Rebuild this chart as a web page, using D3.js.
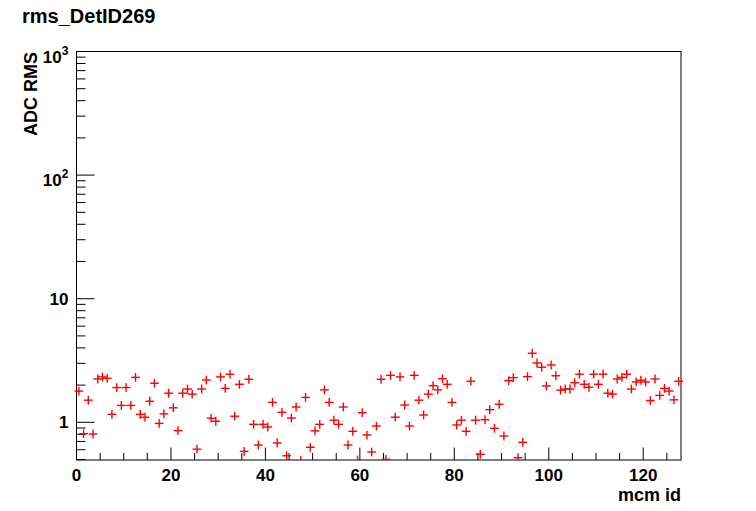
<!DOCTYPE html>
<html><head><meta charset="utf-8">
<script src="https://cdn.jsdelivr.net/npm/d3@7"></script>
<style>body{margin:0;background:#fff}svg{display:block}text{font-family:"Liberation Sans",Arial,sans-serif;font-weight:bold}</style>
</head><body><svg id="c" width="756" height="511"></svg>
<script>
const title = "rms_DetID269";
const xTitle = "mcm id";
const yTitle = "ADC RMS";
const xDomain = [0, 128];
const yDomain = [0.4955, 1000];
const xTickValues = [0, 20, 40, 60, 80, 100, 120];
const yTickValues = [1, 10, 100, 1000];
const yTickLabels = [["1", ""], ["10", ""], ["10", "2"], ["10", "3"]];
// ADC RMS for mcm id 0..127 (bin centres at id + 0.5)
const rmsValues = [
 1.79, 0.809, 1.51, 0.804, 2.24, 2.33, 2.27, 1.16, 1.91, 1.37,
 1.91, 1.37, 2.31, 1.16, 1.10, 1.48, 2.07, 0.98, 1.17, 1.72,
 1.31, 0.855, 1.72, 1.86, 1.69, 0.606, 1.86, 2.20, 1.08, 1.02,
 2.33, 1.88, 2.45, 1.12, 2.03, 0.582, 2.23, 0.963, 0.655, 0.963,
 0.916, 1.45, 0.680, 1.205, 0.536, 1.083, 1.33, 0.495, 1.59, 0.628,
 0.853, 0.963, 1.83, 1.45, 1.04, 0.963, 1.33, 0.655, 0.846, 0.495,
 1.196, 0.789, 0.575, 0.933, 2.23, 0.502, 2.40, 1.10, 2.33, 1.38,
 0.933, 2.40, 1.51, 1.146, 1.69, 1.98, 1.83, 2.25, 2.03, 1.45,
 0.951, 1.04, 0.846, 2.15, 1.04, 0.551, 1.05, 1.265, 0.894, 1.40,
 0.775, 2.17, 2.30, 0.517, 0.689, 2.34, 3.62, 3.02, 2.79, 1.97,
 2.91, 2.38, 1.82, 1.86, 1.86, 2.09, 2.45, 2.03, 1.92, 2.45,
 2.03, 2.45, 1.72, 1.69, 2.24, 2.31, 2.45, 1.86, 2.12, 2.19,
 2.12, 1.50, 2.24, 1.65, 1.88, 1.79, 1.52, 2.15
];
const mcmIds = rmsValues.map((_, i) => i + 0.5);

const svg = d3.select("#c");
const L = 76.5, R = 681, T = 51.5, B = 460;
const x = d3.scaleLinear().domain(xDomain).range([L, R]);
const y = d3.scaleLog().domain(yDomain).range([B, T]);

// frame
svg.append("rect").attr("x", L).attr("y", T).attr("width", R - L).attr("height", B - T)
  .attr("fill", "none").attr("stroke", "#000").attr("stroke-width", 1);

// x axis ticks
const xMinor = d3.range(0, 129, 5);
const gx = svg.append("g");
gx.selectAll("line.mn").data(xMinor).join("line")
  .attr("x1", d => x(d)).attr("x2", d => x(d))
  .attr("y1", B).attr("y2", d => B - (d % 20 === 0 ? 12.5 : 7))
  .attr("stroke", "#000").attr("stroke-width", 1);
gx.selectAll("text").data(xTickValues).join("text")
  .attr("x", d => x(d)).attr("y", 480.5).attr("text-anchor", "middle")
  .attr("font-size", 17).text(d => d);

// y axis ticks
const yMinor = [];
[0.1, 1, 10, 100].forEach(dec => { for (let k = 1; k <= 9; k++) { const v = dec * k; if (v >= yDomain[0] && v <= yDomain[1]) yMinor.push(v); } });
yMinor.push(1000);
const gy = svg.append("g");
gy.selectAll("line").data(yMinor).join("line")
  .attr("x1", L).attr("x2", d => L + (yTickValues.includes(d) ? 18 : 9))
  .attr("y1", d => y(d)).attr("y2", d => y(d))
  .attr("stroke", "#000").attr("stroke-width", 1);
yTickValues.forEach((v, i) => {
  const [base, exp] = yTickLabels[i];
  if (!exp) {
    gy.append("text").attr("x", 68.5).attr("y", y(v) + 6).attr("text-anchor", "end")
      .attr("font-size", 17).text(base);
  } else {
    gy.append("text").attr("x", 61.7).attr("y", y(v) + 11).attr("text-anchor", "end")
      .attr("font-size", 17).text(base);
    gy.append("text").attr("x", 68.5).attr("y", y(v) + 3).attr("text-anchor", "end")
      .attr("font-size", 12).text(exp);
  }
});

// markers
const hs = 4.4;
const pts = svg.append("g").attr("stroke", "#ff0000").attr("stroke-width", 1.4);
rmsValues.forEach((v, i) => {
  const cx = x(mcmIds[i]), cy = y(v);
  const top = Math.max(cy - hs, T), bot = Math.min(cy + hs, B);
  pts.append("line").attr("x1", cx).attr("x2", cx).attr("y1", top).attr("y2", bot);
  if (cy <= B - 0.5) pts.append("line").attr("x1", cx - hs).attr("x2", cx + hs).attr("y1", cy).attr("y2", cy);
});

// titles
svg.append("text").attr("x", 22).attr("y", 23).attr("font-size", 20).text(title);
svg.append("text").attr("x", 681).attr("y", 501).attr("text-anchor", "end").attr("font-size", 18).text(xTitle);
svg.append("text").attr("transform", "translate(37,52) rotate(-90)").attr("text-anchor", "end")
  .attr("font-size", 18).text(yTitle);
</script></body></html>
